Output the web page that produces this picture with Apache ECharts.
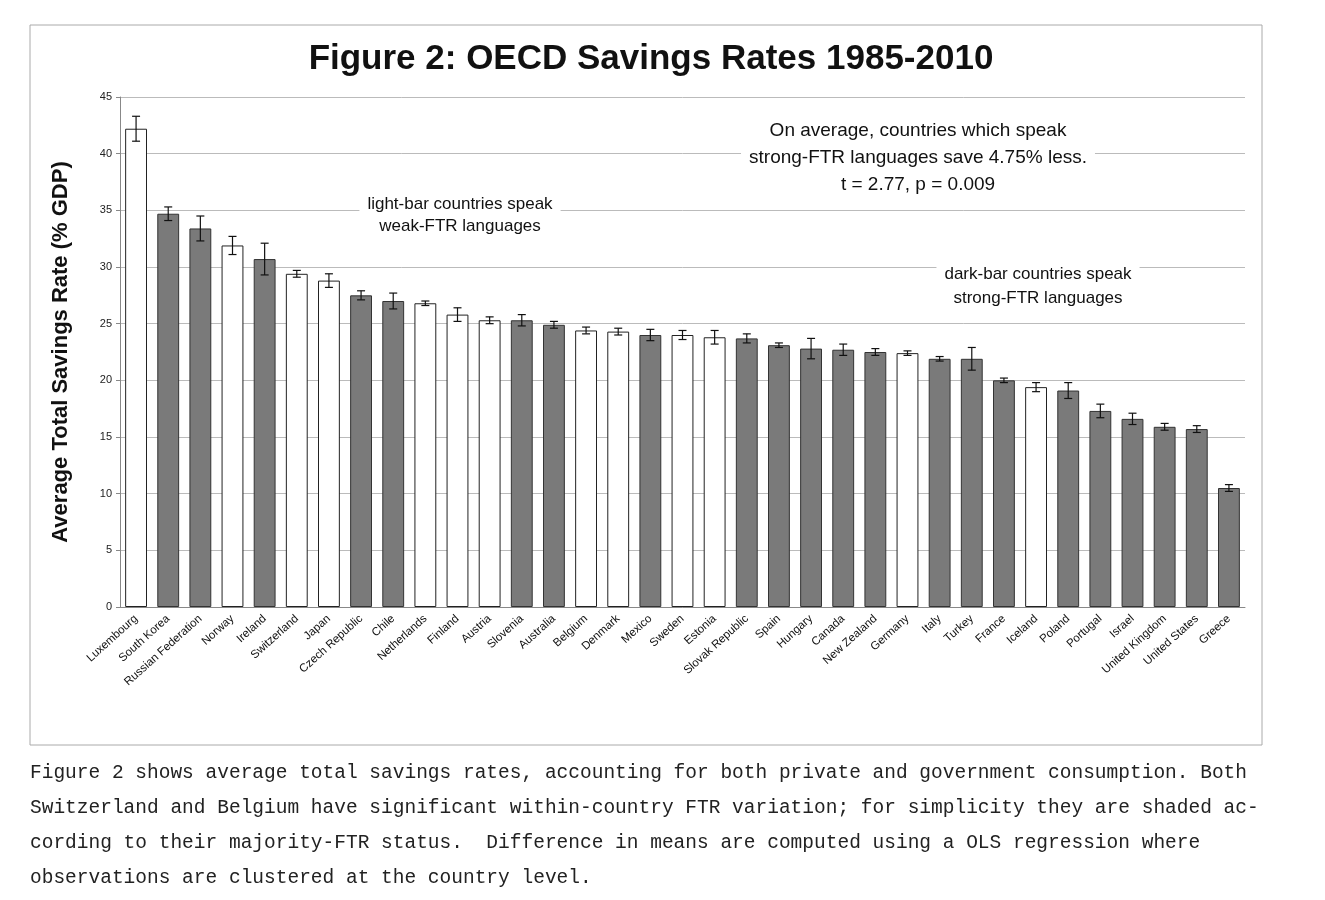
<!DOCTYPE html>
<html lang="en">
<head>
<meta charset="UTF-8">
<script src="https://cdn.jsdelivr.net/npm/echarts@6/dist/echarts.min.js"></script>
<title>OECD Savings Rates</title>
<style>body{margin:0;background:#fff}#chart{width:1325px;height:900px}</style>
</head>
<body>
<div id="chart"></div>
<script type="text/javascript">
var countries = ['Luxembourg', 'South Korea', 'Russian Federation', 'Norway', 'Ireland', 'Switzerland', 'Japan', 'Czech Republic', 'Chile', 'Netherlands', 'Finland', 'Austria', 'Slovenia', 'Australia', 'Belgium', 'Denmark', 'Mexico', 'Sweden', 'Estonia', 'Slovak Republic', 'Spain', 'Hungary', 'Canada', 'New Zealand', 'Germany', 'Italy', 'Turkey', 'France', 'Iceland', 'Poland', 'Portugal', 'Israel', 'United Kingdom', 'United States', 'Greece'];
var rates = [42.2, 34.7, 33.4, 31.9, 30.7, 29.4, 28.8, 27.5, 27.0, 26.8, 25.8, 25.3, 25.3, 24.9, 24.4, 24.3, 24.0, 24.0, 23.8, 23.7, 23.1, 22.8, 22.7, 22.5, 22.4, 21.9, 21.9, 20.0, 19.4, 19.1, 17.3, 16.6, 15.9, 15.7, 10.5];
var errors = [1.1, 0.6, 1.1, 0.8, 1.4, 0.3, 0.6, 0.4, 0.7, 0.2, 0.6, 0.3, 0.5, 0.3, 0.3, 0.3, 0.5, 0.4, 0.6, 0.4, 0.2, 0.9, 0.5, 0.3, 0.2, 0.2, 1.0, 0.2, 0.4, 0.7, 0.6, 0.5, 0.3, 0.3, 0.3];
// 1 = weak-FTR (light bar), 0 = strong-FTR (dark bar)
var weakFTR = [1, 0, 0, 1, 0, 1, 1, 0, 0, 1, 1, 1, 0, 0, 1, 1, 0, 1, 1, 0, 0, 0, 0, 0, 1, 0, 0, 0, 1, 0, 0, 0, 0, 0, 0];
var caption = [
    'Figure 2 shows average total savings rates, accounting for both private and government consumption. Both',
    'Switzerland and Belgium have significant within-country FTR variation; for simplicity they are shaded ac-',
    'cording to their majority-FTR status.  Difference in means are computed using a OLS regression where',
    'observations are clustered at the country level.'
];

var chart = echarts.init(document.getElementById('chart'));

var barData = rates.map(function (v, i) {
    return {
        value: v,
        itemStyle: weakFTR[i] ? { color: '#ffffff', borderColor: '#222', borderWidth: 1 } : { color: '#7a7a7a', borderColor: '#333', borderWidth: 1 }
    };
});
var errData = rates.map(function (v, i) { return [i, v - errors[i], v + errors[i]]; });

var captionText = caption.map(function (line, i) {
    return {
        type: 'text', x: 30, y: 763 + i * 35,
        style: { text: line, font: '19.5px "Liberation Mono"', fill: '#222' }
    };
});

function note(x, y, text, size, lh) {
    return {
        type: 'text', x: x, y: y, z: 10,
        style: { text: text, align: 'center', font: size + 'px "Liberation Sans"', lineHeight: lh, fill: '#111', backgroundColor: '#fff', padding: [0, 8] }
    };
}

var option = {
    animation: false,
    title: {
        text: 'Figure 2: OECD Savings Rates 1985-2010',
        left: 646, top: 37, textAlign: 'center',
        textStyle: { fontFamily: 'Liberation Sans', fontSize: 35, fontWeight: 'bold', color: '#111' }
    },
    grid: { left: 120, right: 80, top: 97, bottom: 293 },
    xAxis: {
        type: 'category',
        data: countries,
        axisTick: { show: false },
        axisLine: { lineStyle: { color: '#888' } },
        axisLabel: { rotate: 42, interval: 0, fontSize: 11.5, color: '#111', fontFamily: 'Liberation Sans', margin: 10 }
    },
    yAxis: {
        type: 'value', min: 0, max: 45, interval: 5,
        name: 'Average Total Savings Rate (% GDP)',
        nameLocation: 'middle', nameGap: 48,
        nameTextStyle: { fontSize: 22, fontWeight: 'bold', color: '#111', fontFamily: 'Liberation Sans' },
        axisLine: { show: true, lineStyle: { color: '#888' } },
        axisTick: { show: true, length: 4, lineStyle: { color: '#888' } },
        axisLabel: { fontSize: 11, color: '#222' },
        splitLine: { lineStyle: { color: '#bbb' } }
    },
    series: [
        { type: 'bar', data: barData, barWidth: '68%' },
        {
            type: 'custom',
            data: errData,
            z: 5,
            renderItem: function (params, api) {
                var x = api.value(0);
                var lo = api.coord([x, api.value(1)]);
                var hi = api.coord([x, api.value(2)]);
                var w = 4;
                var s = { stroke: '#111', lineWidth: 1.2 };
                return {
                    type: 'group',
                    children: [
                        { type: 'line', shape: { x1: lo[0], y1: lo[1], x2: hi[0], y2: hi[1] }, style: s },
                        { type: 'line', shape: { x1: lo[0] - w, y1: lo[1], x2: lo[0] + w, y2: lo[1] }, style: s },
                        { type: 'line', shape: { x1: hi[0] - w, y1: hi[1], x2: hi[0] + w, y2: hi[1] }, style: s }
                    ]
                };
            }
        }
    ],
    graphic: [
        { type: 'rect', shape: { x: 30, y: 25, width: 1232, height: 720 }, style: { fill: 'none', stroke: '#aaa', lineWidth: 1 }, silent: true },
        note(918, 117, 'On average, countries which speak\nstrong-FTR languages save 4.75% less.\nt = 2.77, p = 0.009', 19, 27),
        note(460, 193, 'light-bar countries speak\nweak-FTR languages', 17, 22),
        note(1038, 262, 'dark-bar countries speak\nstrong-FTR languages', 17, 24)
    ].concat(captionText)
};
chart.setOption(option);
</script>
</body>
</html>
